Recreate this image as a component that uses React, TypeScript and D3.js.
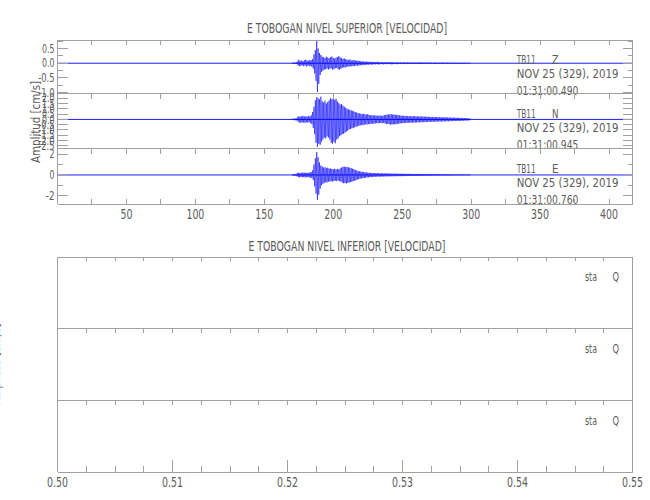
import React from "react";
import * as d3 from "d3";

// ---------------- data ----------------
const TITLE_TOP = "E TOBOGAN NIVEL SUPERIOR [VELOCIDAD]";
const TITLE_BOTTOM = "E TOBOGAN NIVEL INFERIOR [VELOCIDAD]";
const Y_LABEL = "Amplitud [cm/s]";

const X_DOMAIN = [0, 417];
const X_TICKS = [25, 50, 75, 100, 125, 150, 175, 200, 225, 250, 275, 300, 325, 350, 375, 400];
const X_LABELS = [50, 100, 150, 200, 250, 300, 350, 400];

const STATION = "TB11";
const COMPONENTS = ["Z", "N", "E"];
const DATE_LABEL = "NOV 25 (329), 2019";
const START_TIMES = ["01:31:00.490", "01:31:00.945", "01:31:00.760"];

const Y_DOMAINS = [[-1.03, 0.79], [-2.75, 2.45], [-2.79, 2.54]];
const Y_TICKS_MAJOR = [
  [0.5, 0.0, -0.5, -1.0],
  [2.0, 1.5, 1.0, 0.5, 0.0, -0.5, -1.0, -1.5, -2.0, -2.5],
  [2, 0, -2],
];
const Y_TICKS_MINOR = [[0.75, 0.25, -0.25, -0.75], [], [1, -1]];
const Y_DECIMALS = [1, 1, 0];

// envelope of each trace, one sample per second from 170 s to 299 s
const TRACE_START = 170;
const TRACE_STEP = 1;
const BASELINE_T = [0, 417];

const Z_HI = [
  0.02, 0.02, 0.02, 0.03, 0.06, 0.12, 0.08, 0.09, 0.07, 0.1,
  0.12, 0.09, 0.08, 0.11, 0.1, 0.14, 0.3, 0.45, 0.76, 0.5,
  0.35, 0.28, 0.22, 0.2, 0.18, 0.22, 0.19, 0.17, 0.2, 0.23,
  0.18, 0.16, 0.19, 0.21, 0.24, 0.2, 0.17, 0.15, 0.16, 0.14,
  0.12, 0.11, 0.13, 0.1, 0.09, 0.11, 0.1, 0.08, 0.09, 0.07,
  0.07, 0.06, 0.06, 0.05, 0.06, 0.05, 0.05, 0.04, 0.05, 0.04,
  0.04, 0.04, 0.05, 0.04, 0.03, 0.04, 0.03, 0.03, 0.04, 0.03,
  0.03, 0.04, 0.03, 0.03, 0.03, 0.02, 0.03, 0.03, 0.02, 0.03,
  0.02, 0.03, 0.02, 0.02, 0.03, 0.02, 0.02, 0.02, 0.03, 0.02,
  0.02, 0.02, 0.02, 0.03, 0.02, 0.02, 0.02, 0.02, 0.02, 0.02,
  0.02, 0.02, 0.01, 0.02, 0.02, 0.02, 0.01, 0.02, 0.02, 0.02,
  0.02, 0.01, 0.02, 0.02, 0.01, 0.02, 0.02, 0.01, 0.02, 0.01,
  0.02, 0.01, 0.01, 0.02, 0.01, 0.01, 0.02, 0.01, 0.01, 0.01,
];
const Z_LO = [
  -0.02, -0.02, -0.02, -0.03, -0.08, -0.1, -0.09, -0.07, -0.1, -0.08,
  -0.11, -0.08, -0.1, -0.09, -0.12, -0.18, -0.35, -0.6, -0.98, -0.7,
  -0.4, -0.3, -0.25, -0.22, -0.2, -0.18, -0.21, -0.19, -0.17, -0.22,
  -0.2, -0.17, -0.16, -0.2, -0.22, -0.19, -0.16, -0.14, -0.15, -0.13,
  -0.11, -0.12, -0.1, -0.11, -0.09, -0.1, -0.08, -0.09, -0.07, -0.08,
  -0.06, -0.07, -0.05, -0.06, -0.05, -0.05, -0.04, -0.05, -0.04, -0.04,
  -0.04, -0.03, -0.04, -0.04, -0.03, -0.03, -0.04, -0.03, -0.03, -0.03,
  -0.03, -0.03, -0.04, -0.03, -0.02, -0.03, -0.03, -0.02, -0.03, -0.02,
  -0.02, -0.02, -0.03, -0.02, -0.02, -0.03, -0.02, -0.02, -0.02, -0.02,
  -0.02, -0.02, -0.03, -0.02, -0.02, -0.02, -0.02, -0.02, -0.02, -0.01,
  -0.02, -0.02, -0.02, -0.01, -0.02, -0.02, -0.02, -0.01, -0.02, -0.02,
  -0.01, -0.02, -0.02, -0.01, -0.02, -0.01, -0.02, -0.02, -0.01, -0.02,
  -0.01, -0.02, -0.01, -0.01, -0.02, -0.01, -0.01, -0.01, -0.02, -0.01,
];
const N_HI = [
  0.05, 0.06, 0.08, 0.1, 0.2, 0.3, 0.26, 0.3, 0.34, 0.27,
  0.3, 0.26, 0.33, 0.28, 0.4, 0.7, 1.2, 1.8, 2.1, 2.0,
  1.9, 2.15, 1.7, 1.6, 1.75, 1.5, 1.65, 1.8, 2.0, 1.9,
  2.05, 1.85, 1.95, 1.7, 1.55, 1.4, 1.45, 1.3, 1.2, 1.1,
  1.0, 0.95, 0.9, 0.85, 0.8, 0.75, 0.7, 0.65, 0.6, 0.55,
  0.55, 0.5, 0.52, 0.48, 0.45, 0.5, 0.42, 0.4, 0.38, 0.4,
  0.36, 0.38, 0.34, 0.35, 0.37, 0.33, 0.35, 0.4, 0.42, 0.45,
  0.48, 0.46, 0.5, 0.45, 0.47, 0.42, 0.44, 0.4, 0.38, 0.35,
  0.36, 0.33, 0.34, 0.31, 0.33, 0.3, 0.32, 0.29, 0.31, 0.3,
  0.28, 0.3, 0.27, 0.29, 0.26, 0.28, 0.25, 0.27, 0.26, 0.24,
  0.25, 0.23, 0.24, 0.22, 0.23, 0.21, 0.22, 0.2, 0.21, 0.2,
  0.19, 0.2, 0.18, 0.19, 0.17, 0.18, 0.16, 0.17, 0.16, 0.15,
  0.16, 0.14, 0.15, 0.13, 0.14, 0.12, 0.13, 0.11, 0.1, 0.09,
];
const N_LO = [
  -0.05, -0.07, -0.08, -0.1, -0.22, -0.3, -0.32, -0.28, -0.3, -0.32,
  -0.27, -0.3, -0.26, -0.35, -0.45, -0.8, -1.4, -2.2, -2.6, -2.3,
  -2.4, -2.1, -1.9, -1.7, -1.8, -1.6, -1.7, -1.9, -2.2, -2.3,
  -2.1, -2.25, -1.9, -1.8, -1.6, -1.5, -1.4, -1.35, -1.25, -1.15,
  -1.05, -0.95, -0.9, -0.85, -0.8, -0.75, -0.7, -0.65, -0.6, -0.58,
  -0.52, -0.55, -0.5, -0.46, -0.48, -0.44, -0.45, -0.4, -0.42, -0.38,
  -0.38, -0.35, -0.36, -0.34, -0.35, -0.36, -0.33, -0.38, -0.44, -0.42,
  -0.45, -0.5, -0.46, -0.48, -0.44, -0.46, -0.4, -0.42, -0.36, -0.37,
  -0.34, -0.35, -0.32, -0.33, -0.3, -0.32, -0.29, -0.31, -0.28, -0.3,
  -0.29, -0.27, -0.28, -0.26, -0.27, -0.25, -0.26, -0.24, -0.25, -0.23,
  -0.24, -0.22, -0.23, -0.21, -0.22, -0.2, -0.21, -0.19, -0.2, -0.19,
  -0.18, -0.19, -0.17, -0.18, -0.16, -0.17, -0.15, -0.16, -0.15, -0.14,
  -0.15, -0.13, -0.14, -0.12, -0.13, -0.11, -0.12, -0.1, -0.09, -0.08,
];
const E_HI = [
  0.05, 0.06, 0.08, 0.1, 0.2, 0.22, 0.18, 0.2, 0.24, 0.21,
  0.2, 0.22, 0.19, 0.25, 0.28, 0.45, 1.0, 1.6, 2.2, 1.7,
  1.2, 0.9, 0.8, 0.7, 0.75, 0.65, 0.7, 0.6, 0.62, 0.58,
  0.55, 0.6, 0.52, 0.58, 0.55, 0.62, 0.7, 0.78, 0.8, 0.75,
  0.78, 0.72, 0.7, 0.65, 0.6, 0.55, 0.48, 0.42, 0.38, 0.35,
  0.32, 0.3, 0.28, 0.26, 0.25, 0.22, 0.21, 0.2, 0.19, 0.18,
  0.17, 0.18, 0.16, 0.17, 0.15, 0.16, 0.15, 0.14, 0.15, 0.14,
  0.14, 0.13, 0.14, 0.12, 0.13, 0.12, 0.13, 0.12, 0.11, 0.12,
  0.11, 0.12, 0.1, 0.11, 0.1, 0.11, 0.1, 0.09, 0.1, 0.09,
  0.09, 0.1, 0.09, 0.08, 0.09, 0.08, 0.09, 0.08, 0.07, 0.08,
  0.07, 0.08, 0.07, 0.07, 0.06, 0.07, 0.06, 0.07, 0.06, 0.06,
  0.06, 0.05, 0.06, 0.05, 0.06, 0.05, 0.05, 0.05, 0.04, 0.05,
  0.05, 0.04, 0.05, 0.04, 0.04, 0.04, 0.04, 0.03, 0.04, 0.03,
];
const E_LO = [
  -0.05, -0.07, -0.08, -0.12, -0.2, -0.24, -0.19, -0.22, -0.2, -0.23,
  -0.22, -0.2, -0.24, -0.26, -0.3, -0.5, -1.1, -1.8, -2.4, -1.9,
  -1.3, -1.0, -0.85, -0.75, -0.7, -0.72, -0.65, -0.62, -0.6, -0.64,
  -0.58, -0.55, -0.6, -0.54, -0.58, -0.65, -0.72, -0.8, -0.78, -0.82,
  -0.75, -0.74, -0.68, -0.66, -0.58, -0.56, -0.5, -0.44, -0.4, -0.36,
  -0.33, -0.31, -0.29, -0.27, -0.24, -0.23, -0.22, -0.2, -0.2, -0.18,
  -0.18, -0.17, -0.17, -0.16, -0.16, -0.15, -0.15, -0.15, -0.14, -0.14,
  -0.13, -0.14, -0.13, -0.13, -0.12, -0.13, -0.12, -0.11, -0.12, -0.11,
  -0.12, -0.11, -0.11, -0.1, -0.11, -0.1, -0.09, -0.1, -0.09, -0.1,
  -0.09, -0.09, -0.08, -0.09, -0.08, -0.08, -0.08, -0.07, -0.08, -0.07,
  -0.08, -0.07, -0.07, -0.06, -0.07, -0.06, -0.07, -0.06, -0.06, -0.05,
  -0.06, -0.06, -0.05, -0.06, -0.05, -0.05, -0.05, -0.04, -0.05, -0.04,
  -0.04, -0.05, -0.04, -0.04, -0.04, -0.03, -0.04, -0.04, -0.03, -0.03,
];

const BOTTOM_X_DOMAIN = [0.5, 0.55];
const BOTTOM_MAJOR = [0.5, 0.51, 0.52, 0.53, 0.54, 0.55];
const BOTTOM_MINOR = [
  0.5025, 0.505, 0.5075, 0.5125, 0.515, 0.5175, 0.5225, 0.525, 0.5275,
  0.5325, 0.535, 0.5375, 0.5425, 0.545, 0.5475,
];
const BOTTOM_ROWS = ["sta", "sta", "sta"];
const BOTTOM_COMP = ["Q", "Q", "Q"];

// ---------------- layout ----------------
const W = 650;
const H = 500;
const LEFT = 57.5;
const RIGHT = 632.5;
const TOP_ROWS = [40, 93.5, 148.5, 204];
const BOT_ROWS = [257, 328.5, 400.5, 472];
const AXIS = "#a0a0a0";
const TXT = "#5c5c5c";
const BLUE = "#0000ff";
const FONT = "'DejaVu Sans', sans-serif";

const TRACES = [
  [Z_HI, Z_LO],
  [N_HI, N_LO],
  [E_HI, E_LO],
];

// narrow (condensed) width of a short label, used as SVG textLength
function narrowWidth(s: string, digit: number): number {
  let w = 0;
  for (const ch of s) {
    if (ch >= "0" && ch <= "9") w += digit;
    else if (ch === "." || ch === ":") w += digit * 0.5;
    else if (ch === "-") w += digit * 0.75;
    else w += digit;
  }
  return w;
}

export default function App() {
  const x = d3.scaleLinear().domain(X_DOMAIN).range([LEFT, RIGHT]);
  const xb = d3.scaleLinear().domain(BOTTOM_X_DOMAIN).range([LEFT, RIGHT]);

  const rows = COMPONENTS.map((c, i) => {
    const y = d3
      .scaleLinear()
      .domain(Y_DOMAINS[i])
      .range([TOP_ROWS[i + 1], TOP_ROWS[i]]);
    const [hi, lo] = TRACES[i];
    const pts: [number, number][] = [];
    hi.forEach((h, k) => {
      const t = TRACE_START + k * TRACE_STEP;
      pts.push([t, h]);
      pts.push([t + TRACE_STEP / 2, lo[k]]);
    });
    const line = d3
      .line<[number, number]>()
      .x((d) => x(d[0]))
      .y((d) => y(d[1]));
    const base = line(BASELINE_T.map((t) => [t, 0] as [number, number]));
    return { c, i, y, path: line(pts), base };
  });

  return (
    <svg
      width={W}
      height={H}
      viewBox={`0 0 ${W} ${H}`}
      style={{ position: "absolute", left: 0, top: 0, background: "#fff" }}
      fontFamily={FONT}
    >
      <rect x={0} y={0} width={W} height={H} fill="#fff" />

      {/* ---------- top panel ---------- */}
      <text
        x={(LEFT + RIGHT) / 2 + 2}
        y={33}
        textAnchor="middle"
        fontSize={13.5}
        fill={TXT}
        textLength={200}
        lengthAdjust="spacingAndGlyphs"
      >
        {TITLE_TOP}
      </text>

      {rows.map(({ c, i, y, path, base }) => {
        const top = TOP_ROWS[i];
        const bot = TOP_ROWS[i + 1];
        const fmt = (v: number) => v.toFixed(Y_DECIMALS[i]);
        return (
          <g key={c}>
            <path d={base ?? ""} fill="none" stroke={BLUE} strokeWidth={0.9} />
            <path d={path ?? ""} fill="none" stroke={BLUE} strokeWidth={0.55} />
            {/* frame */}
            <g stroke={AXIS} strokeWidth={1} shapeRendering="crispEdges">
              <line x1={LEFT} x2={RIGHT} y1={top} y2={top} />
              <line x1={LEFT} x2={LEFT} y1={top} y2={bot} />
              <line x1={RIGHT} x2={RIGHT} y1={top} y2={bot} />
              {X_TICKS.map((t) => (
                <line key={"tt" + t} x1={x(t)} x2={x(t)} y1={top} y2={top + 5} />
              ))}
              {Y_TICKS_MAJOR[i].map((v) => (
                <g key={"ym" + v}>
                  <line x1={LEFT} x2={LEFT + 10} y1={y(v)} y2={y(v)} />
                  <line x1={RIGHT} x2={RIGHT - 10} y1={y(v)} y2={y(v)} />
                </g>
              ))}
              {Y_TICKS_MINOR[i].map((v) => (
                <g key={"yn" + v}>
                  <line x1={LEFT} x2={LEFT + 5} y1={y(v)} y2={y(v)} />
                  <line x1={RIGHT} x2={RIGHT - 5} y1={y(v)} y2={y(v)} />
                </g>
              ))}
            </g>
            {Y_TICKS_MAJOR[i].map((v) => (
              <text
                key={"yl" + v}
                x={LEFT - 3}
                y={y(v)}
                dy="0.36em"
                textAnchor="end"
                fontSize={11.5}
                fill={TXT}
                textLength={narrowWidth(fmt(v), 5)}
                lengthAdjust="spacingAndGlyphs"
              >
                {fmt(v)}
              </text>
            ))}
            {/* annotations */}
            <g fill={TXT} fontSize={11.5}>
              <text x={516.7} y={top + 24} textLength={19} lengthAdjust="spacingAndGlyphs">
                {STATION}
              </text>
              <text x={552} y={top + 24} textLength={6.5} lengthAdjust="spacingAndGlyphs">
                {c}
              </text>
              <text x={516.7} y={top + 38} textLength={101.7} lengthAdjust="spacingAndGlyphs">
                {DATE_LABEL}
              </text>
              <text x={516.7} y={top + 55} textLength={61.7} lengthAdjust="spacingAndGlyphs">
                {START_TIMES[i]}
              </text>
            </g>
          </g>
        );
      })}

      {/* top panel bottom axis */}
      <g stroke={AXIS} strokeWidth={1} shapeRendering="crispEdges">
        <line x1={LEFT} x2={RIGHT} y1={TOP_ROWS[3]} y2={TOP_ROWS[3]} />
        {X_TICKS.map((t) => (
          <line key={"bt" + t} x1={x(t)} x2={x(t)} y1={TOP_ROWS[3]} y2={TOP_ROWS[3] - 5} />
        ))}
      </g>
      {X_LABELS.map((t) => (
        <text
          key={"xl" + t}
          x={x(t)}
          y={218.5}
          textAnchor="middle"
          fontSize={14}
          fill={TXT}
          textLength={narrowWidth(String(t), 6)}
          lengthAdjust="spacingAndGlyphs"
        >
          {t}
        </text>
      ))}

      <text
        transform={`translate(40,${(TOP_ROWS[0] + TOP_ROWS[3]) / 2}) rotate(-90)`}
        textAnchor="middle"
        fontSize={12}
        fill={TXT}
        textLength={82}
        lengthAdjust="spacingAndGlyphs"
      >
        {Y_LABEL}
      </text>

      {/* ---------- bottom panel ---------- */}
      <text
        x={(LEFT + RIGHT) / 2 + 2}
        y={251}
        textAnchor="middle"
        fontSize={13.5}
        fill={TXT}
        textLength={197}
        lengthAdjust="spacingAndGlyphs"
      >
        {TITLE_BOTTOM}
      </text>

      {BOTTOM_ROWS.map((s, i) => {
        const top = BOT_ROWS[i];
        const bot = BOT_ROWS[i + 1];
        return (
          <g key={"br" + i}>
            <g stroke={AXIS} strokeWidth={1} shapeRendering="crispEdges">
              <line x1={LEFT} x2={RIGHT} y1={top} y2={top} />
              <line x1={LEFT} x2={LEFT} y1={top} y2={bot} />
              <line x1={RIGHT} x2={RIGHT} y1={top} y2={bot} />
              {[...BOTTOM_MAJOR, ...BOTTOM_MINOR].map((t) => (
                <line key={"bk" + t} x1={xb(t)} x2={xb(t)} y1={top} y2={top + 4} />
              ))}
            </g>
            <text
              x={585}
              y={top + 24}
              fontSize={12}
              fill={TXT}
              textLength={12}
              lengthAdjust="spacingAndGlyphs"
            >
              {s}
            </text>
            <text
              x={612.5}
              y={top + 24}
              fontSize={12}
              fill={TXT}
              textLength={6.5}
              lengthAdjust="spacingAndGlyphs"
            >
              {BOTTOM_COMP[i]}
            </text>
          </g>
        );
      })}

      <g stroke={AXIS} strokeWidth={1} shapeRendering="crispEdges">
        <line x1={LEFT} x2={RIGHT} y1={BOT_ROWS[3]} y2={BOT_ROWS[3]} />
        {BOTTOM_MAJOR.map((t) => (
          <line key={"bM" + t} x1={xb(t)} x2={xb(t)} y1={BOT_ROWS[3]} y2={BOT_ROWS[3] - 12} />
        ))}
        {BOTTOM_MINOR.map((t) => (
          <line key={"bm" + t} x1={xb(t)} x2={xb(t)} y1={BOT_ROWS[3]} y2={BOT_ROWS[3] - 6} />
        ))}
      </g>
      {BOTTOM_MAJOR.map((t) => (
        <text
          key={"bl" + t}
          x={xb(t)}
          y={486.5}
          textAnchor="middle"
          fontSize={14}
          fill={TXT}
          textLength={narrowWidth(t.toFixed(2), 6)}
          lengthAdjust="spacingAndGlyphs"
        >
          {t.toFixed(2)}
        </text>
      ))}

      <text
        transform={`translate(0,${(BOT_ROWS[0] + BOT_ROWS[3]) / 2}) rotate(-90)`}
        textAnchor="middle"
        fontSize={12}
        fill={TXT}
        textLength={82}
        lengthAdjust="spacingAndGlyphs"
      >
        {Y_LABEL}
      </text>
    </svg>
  );
}
